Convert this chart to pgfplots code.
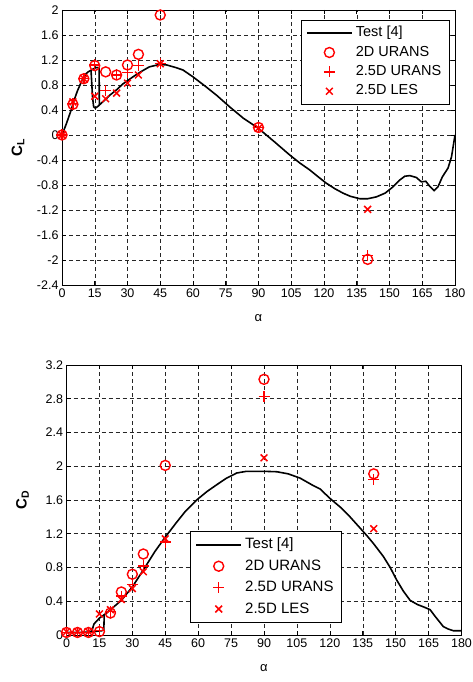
\documentclass[border=0pt]{standalone}
\usepackage{fontspec}
\setmainfont{Liberation Sans}
\usepackage{pgfplots}
\pgfplotsset{compat=1.18}

\definecolor{mred}{rgb}{1,0,0}

\pgfplotsset{
  matlab/.style={
    scale only axis,
    axis line style={black, line width=0.8pt},
    tick style={black, line width=0.6pt},
    tick align=inside,
    major tick length=4pt,
    grid=major,
    major grid style={black!85, line width=0.5pt, dash pattern=on 4pt off 3pt},
    xmin=0, xmax=180,
    xtick={0,15,...,180},
    tick label style={font=\fontsize{12.5}{14}\selectfont},
    /pgf/number format/assume math mode=true,
    xlabel={α},
    xlabel style={font=\fontsize{13}{15}\selectfont, at={(axis description cs:0.5,0)}, anchor=center, yshift=-33pt},
    ylabel style={font=\fontsize{15}{17}\selectfont\bfseries, at={(axis description cs:0,0.5)}, anchor=center, yshift=44pt},
    legend cell align=left,
    legend style={draw=black, line width=0.8pt, fill=white,
      font=\fontsize{14.5}{17}\selectfont,
      inner xsep=5pt, inner ysep=3pt,
      nodes={inner sep=3.2pt, text height=10pt, text depth=3pt},
      row sep=0pt,
      /tikz/every even column/.append style={column sep=3pt}},
  },
  testline/.style={black, line width=1.6pt, no markers,
    legend image code/.code={\draw[##1] (0pt,0pt) -- (45pt,0pt);}},
  urans2d/.style={only marks, mred, mark=o, mark size=5pt, mark options={line width=1.4pt},
    legend image code/.code={\draw[##1] plot coordinates {(22.5pt,0pt)};}},
  urans25/.style={only marks, mred, mark=+, mark size=5.5pt, mark options={line width=1.4pt},
    legend image code/.code={\draw[##1] plot coordinates {(22.5pt,0pt)};}},
  les25/.style={only marks, mred, mark=x, mark size=4.8pt, mark options={line width=1.5pt},
    legend image code/.code={\draw[##1] plot coordinates {(22.5pt,0pt)};}},
}

\begin{document}
\begin{tikzpicture}

% ---------- lift coefficient ----------
\begin{axis}[matlab,
  at={(62pt,397pt)}, anchor=south west,
  width=393pt, height=275pt,
  ymin=-2.4, ymax=2,
  ytick={-2.4,-2,-1.6,-1.2,-0.8,-0.4,0,0.4,0.8,1.2,1.6,2},
  yticklabels={-2.4,-2,-1.6,-1.2,-0.8,-0.4,0,0.4,0.8,1.2,1.6,2},
  ylabel={C\textsubscript{L}},
  legend style={at={(0.987,0.9636)}, anchor=north east},
]
\addplot[testline] coordinates {
  (0,0) (2,0.18) (4,0.38) (5.5,0.55) (7,0.7) (8.5,0.82) (9.6,0.91)
  (11,0.98) (12,1.01) (14,1.05) (15,1.07) (16,1.08) (17,1.07)
  (17.1,0.48) (19.6,0.56) (22,0.64) (24.9,0.72) (28,0.82) (32.5,0.93)
  (36,1.01) (40,1.09) (44.8,1.13) (48,1.12) (52,1.08) (55.4,1.04)
  (60,0.93) (66,0.77) (71,0.63) (76.8,0.45) (83,0.27) (89.8,0.11)
  (97,-0.1) (104.3,-0.32) (109,-0.45) (113.5,-0.56) (117,-0.66)
  (121,-0.77) (125,-0.86) (128.7,-0.93) (132,-0.98) (136.4,-1.02)
  (140,-1.02) (144,-0.99) (148,-0.93) (151.6,-0.83) (154.7,-0.72)
  (157,-0.66) (159.3,-0.65) (162.3,-0.68) (164.6,-0.75) (166.6,-0.74)
  (168.4,-0.82) (170.4,-0.89) (172.2,-0.83) (174.2,-0.67) (176.8,-0.53)
  (178.4,-0.35) (180,0)
};
\addlegendentry{Test [4]}
% hysteresis branch near stall
\addplot[testline, forget plot] coordinates {
  (13.3,1.03) (14,0.6) (14.5,0.45) (15.3,0.43) (16.5,0.46) (17.1,0.48)
};
\addplot[urans2d] coordinates {
  (0,0) (5,0.49) (10,0.9) (15,1.11) (20,1.01) (25,0.96) (30,1.12)
  (35,1.29) (45,1.92) (90,0.12) (140,-1.99)
};
\addlegendentry{2D URANS}
\addplot[urans25] coordinates {
  (0,0) (5,0.5) (10,0.9) (15,1.12) (20,0.71) (25,0.96) (30,1.0)
  (35,1.11) (45,1.14) (90,0.12) (140,-1.93)
};
\addlegendentry{2.5D URANS}
\addplot[les25] coordinates {
  (0,0) (5,0.53) (10,0.9) (15,0.62) (20,0.58) (25,0.67) (30,0.83)
  (35,0.96) (45,1.14) (90,0.11) (140,-1.19)
};
\addlegendentry{2.5D LES}
\end{axis}

% ---------- drag coefficient ----------
\begin{axis}[matlab,
  at={(66.5pt,47pt)}, anchor=south west,
  width=395pt, height=270pt,
  ymin=0, ymax=3.2,
  ytick={0,0.4,0.8,1.2,1.6,2,2.4,2.8,3.2},
  yticklabels={0,0.4,0.8,1.2,1.6,2,2.4,2.8,3.2},
  ylabel={C\textsubscript{D}},
  legend style={at={(0.3127,0.044)}, anchor=south west,
    font=\fontsize{15}{18}\selectfont,
    nodes={inner sep=3.2pt, text height=11.5pt, text depth=3.5pt}},
]
\addplot[testline] coordinates {
  (0,0.03) (5,0.03) (10,0.035) (12,0.04) (14,0.045) (16,0.05) (17,0.06)
  (17.2,0.24) (20,0.3) (25,0.41) (30,0.57) (35,0.77) (40.3,0.99)
  (45,1.16) (50,1.33) (54,1.46) (59.3,1.6) (64,1.7) (68.4,1.78)
  (73,1.86) (77.6,1.92) (82,1.94) (89.7,1.94) (95.8,1.935) (101,1.91)
  (106.4,1.86) (112.5,1.77) (115.6,1.73) (120,1.62) (125,1.51)
  (129.2,1.40) (133,1.29) (136.8,1.18) (140,1.08) (144.4,0.93)
  (147.5,0.8) (150.5,0.65) (153.5,0.52) (156.6,0.41) (160,0.36)
  (163,0.33) (165.7,0.30) (168,0.22) (171.7,0.1) (174,0.07)
  (176.3,0.05) (180,0.05)
};
\addlegendentry{Test [4]}
% hysteresis branch near stall
\addplot[testline, forget plot] coordinates {
  (11.5,0.04) (12.5,0.13) (15,0.2) (17.2,0.24)
};
\addplot[urans2d] coordinates {
  (0,0.03) (5,0.03) (10,0.03) (15,0.04) (20,0.26) (25,0.51) (30,0.72)
  (35,0.96) (45,2.01) (90,3.03) (140,1.91)
};
\addlegendentry{2D URANS}
\addplot[urans25] coordinates {
  (0,0.03) (5,0.03) (10,0.03) (15,0.05) (20,0.28) (25,0.46) (30,0.6)
  (35,0.82) (45,1.1) (90,2.83) (140,1.84)
};
\addlegendentry{2.5D URANS}
\addplot[les25] coordinates {
  (0,0.04) (5,0.04) (10,0.04) (15,0.25) (20,0.3) (25,0.42) (30,0.55)
  (35,0.75) (45,1.14) (90,2.1) (140,1.26)
};
\addlegendentry{2.5D LES}
\end{axis}

\pgfresetboundingbox
\path[use as bounding box] (0,0) rectangle (472pt,682pt);
\end{tikzpicture}
\end{document}
